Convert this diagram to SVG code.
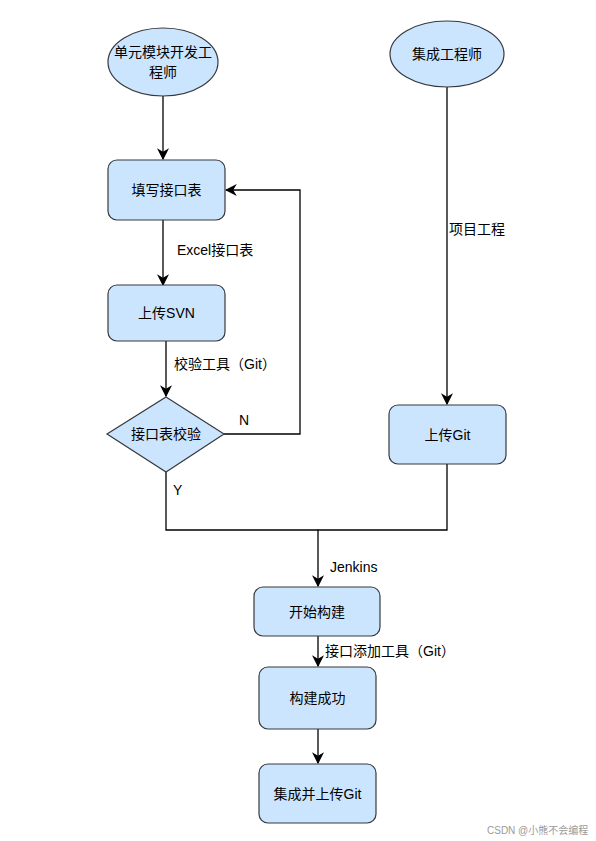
<svg xmlns="http://www.w3.org/2000/svg" width="596" height="841" viewBox="0 0 596 841">
<style>
.node{fill:#cce5ff;stroke:#36393d;stroke-width:1.2}
.t{font-family:"Liberation Sans","Noto Sans CJK SC",sans-serif;font-size:14px;fill:#000;text-anchor:middle;dominant-baseline:central}
.lbl{font-family:"Liberation Sans","Noto Sans CJK SC",sans-serif;font-size:14px;fill:#000}
.c{fill:none;stroke:#000;stroke-width:1.3}
.wm{font-family:"Liberation Sans","Noto Sans CJK SC",sans-serif;font-size:10px;fill:#9a9a9a}
</style>
<defs>
<marker id="arr" markerUnits="userSpaceOnUse" markerWidth="12" markerHeight="12" viewBox="0 0 10 10" refX="9" refY="5" orient="auto">
<path d="M0,0 L10,5 L0,10 L3,5 z" fill="#000"/>
</marker>
</defs>
<rect width="596" height="841" fill="#fff"/>
<g id="connectors">
<path class="c" d="M163,96 L163,159" marker-end="url(#arr)"/>
<path class="c" d="M163,220 L163,285" marker-end="url(#arr)"/>
<path class="c" d="M166,341 L166,396" marker-end="url(#arr)"/>
<path class="c" d="M224,434 L300,434 L300,190 L226,190" marker-end="url(#arr)"/>
<path class="c" d="M166,472 L166,530 L318,530"/>
<path class="c" d="M447,87 L447,404" marker-end="url(#arr)"/>
<path class="c" d="M447,464 L447,530 L318,530 L318,586" marker-end="url(#arr)"/>
<path class="c" d="M318,636 L318,666" marker-end="url(#arr)"/>
<path class="c" d="M318,729 L318,763" marker-end="url(#arr)"/>
<text class="lbl" x="177" y="255">Excel接口表</text>
<text class="lbl" x="174" y="369">校验工具（Git）</text>
<text class="lbl" x="239" y="425">N</text>
<text class="lbl" x="173" y="495">Y</text>
<text class="lbl" x="449" y="234">项目工程</text>
<text class="lbl" x="330" y="572">Jenkins</text>
<text class="lbl" x="325" y="656">接口添加工具（Git）</text>
</g>
<g id="n1"><ellipse class="node" cx="163" cy="62" rx="55" ry="34"/><text class="t" x="163" y="52">单元模块开发工</text><text class="t" x="163" y="72">程师</text></g>
<g id="n2"><ellipse class="node" cx="447" cy="54" rx="57" ry="33"/><text class="t" x="447" y="54">集成工程师</text></g>
<g id="n3"><rect class="node" x="108" y="160" width="117" height="60" rx="9"/><text class="t" x="166.5" y="190">填写接口表</text></g>
<g id="n4"><rect class="node" x="108" y="285" width="117" height="56" rx="9"/><text class="t" x="166.5" y="313">上传SVN</text></g>
<g id="n5"><path class="node" d="M166,397 L224,434 L166,472 L107,434 Z"/><text class="t" x="166" y="434">接口表校验</text></g>
<g id="n6"><rect class="node" x="389" y="405" width="117" height="59" rx="9"/><text class="t" x="447.5" y="434.5">上传Git</text></g>
<g id="n7"><rect class="node" x="254" y="587" width="126" height="49" rx="9"/><text class="t" x="317" y="611.5">开始构建</text></g>
<g id="n8"><rect class="node" x="259" y="667" width="117" height="62" rx="9"/><text class="t" x="317.5" y="698">构建成功</text></g>
<g id="n9"><rect class="node" x="259" y="764" width="117" height="59" rx="9"/><text class="t" x="317.5" y="793.5">集成并上传Git</text></g>
<text class="wm" x="487" y="834">CSDN @小熊不会编程</text>
</svg>
